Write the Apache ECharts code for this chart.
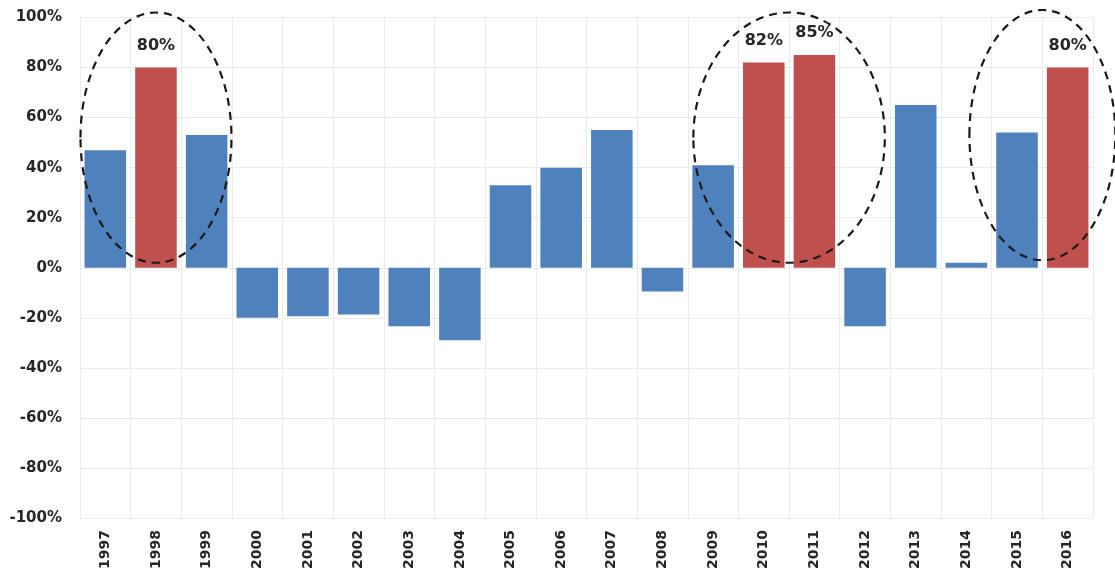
<!DOCTYPE html>
<html>
<head>
<meta charset="utf-8">
<style>
  html, body { margin: 0; padding: 0; background: #ffffff; }
  #chart { width: 1115px; height: 575px; }
</style>
<script src="https://cdn.jsdelivr.net/npm/echarts@6/dist/echarts.min.js"></script>
</head>
<body>
<div id="chart"></div>
<script>
// Annual returns, 1997-2016 (percent)
const years = ['1997','1998','1999','2000','2001','2002','2003','2004','2005','2006',
               '2007','2008','2009','2010','2011','2012','2013','2014','2015','2016'];
const returns = [47, 80, 53, -20, -19.4, -18.7, -23.4, -29, 33, 40,
                 55, -9.5, 41, 82, 85, -23.4, 65, 2, 54, 80];
// Years with exceptional returns, shown in red with a value label
const highlightYears = ['1998', '2010', '2011', '2016'];
// Dashed ellipses circling the exceptional years:
// [centre category index, half width in categories, lower %, upper %]
const ellipses = [
  [1, 1.49, 2, 102],
  [13.5, 1.89, 2, 102],
  [18.5, 1.44, 3, 103]
];
const yTicks = [-100, -80, -60, -40, -20, 0, 20, 40, 60, 80, 100];

const BLUE = '#4F81BD';
const RED = '#C0504D';
const TEXT = '#262626';
const FONT = 'DejaVu Sans';

const barData = returns.map((v, i) => {
  const hot = highlightYears.includes(years[i]);
  return {
    value: v,
    itemStyle: { color: hot ? RED : BLUE },
    label: { show: hot }
  };
});

const chart = echarts.init(document.getElementById('chart'), null, { renderer: 'canvas' });

chart.setOption({
  animation: false,
  backgroundColor: '#ffffff',
  grid: { left: 80, right: 22, top: 17.5, bottom: 57, containLabel: false },
  xAxis: {
    type: 'category',
    data: years,
    boundaryGap: true,
    axisLine: { show: false },
    axisTick: { show: false },
    splitLine: { show: true, lineStyle: { color: '#ececec', width: 1 } },
    axisLabel: {
      rotate: 90,
      margin: 12,
      color: TEXT,
      fontFamily: FONT,
      fontWeight: 'bold',
      fontSize: 14,
      interval: 0
    }
  },
  yAxis: {
    type: 'value',
    min: yTicks[0],
    max: yTicks[yTicks.length - 1],
    interval: 20,
    axisLine: { show: false },
    axisTick: { show: false },
    splitLine: { show: true, lineStyle: { color: '#ececec', width: 1 } },
    axisLabel: {
      margin: 18,
      color: TEXT,
      fontFamily: FONT,
      fontWeight: 'bold',
      fontSize: 15,
      formatter: v => v + '%'
    }
  },
  series: [
    {
      type: 'bar',
      data: barData,
      barCategoryGap: '18%',
      label: {
        position: 'top',
        distance: 14,
        color: TEXT,
        fontFamily: FONT,
        fontWeight: 'bold',
        fontSize: 16,
        formatter: p => Math.round(p.value) + '%'
      },
      z: 2
    },
    {
      type: 'custom',
      clip: false,
      silent: true,
      z: 5,
      data: ellipses,
      renderItem: function (params, api) {
        const c = api.value(0);
        const base = Math.floor(c);
        const frac = c - base;
        const band = api.size([1, 0])[0];
        const p0 = api.coord([base, api.value(2)]);
        const p1 = api.coord([base, api.value(3)]);
        const cx = p0[0] + frac * band;
        const rx = api.value(1) * band;
        const cy = (p0[1] + p1[1]) / 2;
        const ry = Math.abs(p0[1] - p1[1]) / 2;
        return {
          type: 'ellipse',
          shape: { cx: cx, cy: cy, rx: rx, ry: ry },
          style: {
            fill: null,
            stroke: '#1a1a1a',
            lineWidth: 2.2,
            lineDash: [8, 6]
          }
        };
      }
    }
  ]
});
</script>
</body>
</html>
